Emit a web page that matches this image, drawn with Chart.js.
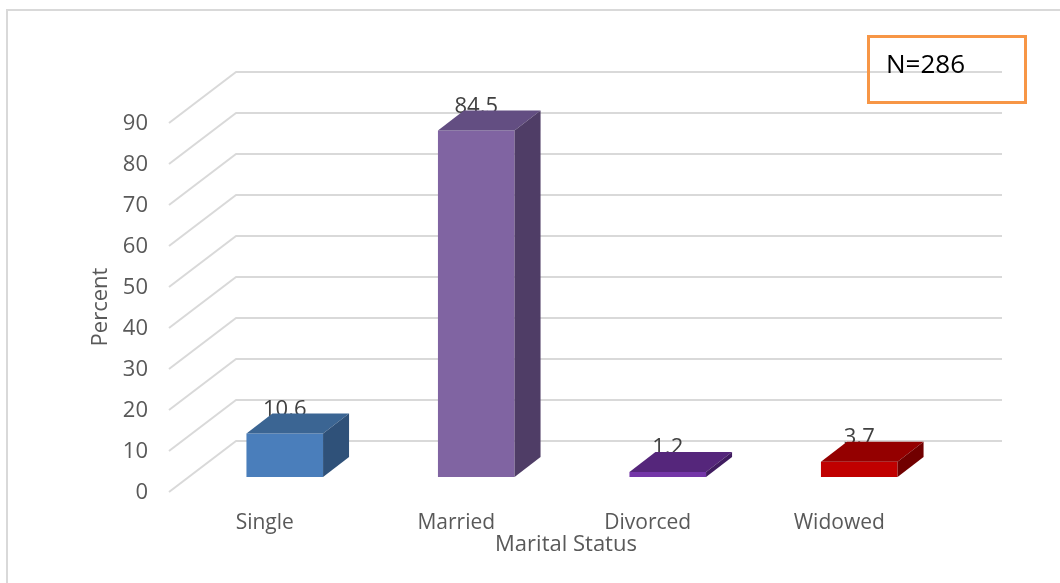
<!DOCTYPE html>
<html>
<head>
<meta charset="utf-8">
<script src="https://cdn.jsdelivr.net/npm/chart.js@4.4.1/dist/chart.umd.min.js"></script>
<style>
  html, body { margin: 0; padding: 0; background: #ffffff; }
  #wrap { width: 1060px; height: 583px; position: relative; }
</style>
</head>
<body>
<div id="wrap"><canvas id="chart" width="1060" height="583"></canvas></div>
<script>
// Marital status of respondents (percent)
const categories = ['Single', 'Married', 'Divorced', 'Widowed'];
const percentValues = [10.6, 84.5, 1.2, 3.7];
const yTicks = [0, 10, 20, 30, 40, 50, 60, 70, 80, 90];
const sampleNote = 'N=286';
const xTitle = 'Marital Status';
const yTitle = 'Percent';

// face colours per bar: front, top, right side
const frontColors = ['#4A7EBB', '#8064A2', '#7436A8', '#C00000'];
const topColors   = ['#3B6593', '#634E82', '#55267B', '#940000'];
const sideColors  = ['#2F5179', '#4F3D66', '#401C60', '#710000'];

const FONT = "'Open Sans', 'Noto Sans', sans-serif";
const TEXT = '#595959';

// 3-D geometry: bar depth, and floor/wall offsets relative to the bar plane
const BAR_DX = 26, BAR_DY = -20;
const FRONT_DX = -20, FRONT_DY = 15;
const BACK_DX = 47, BACK_DY = -36;

const threeD = {
  id: 'threeD',
  beforeDraw(chart) {
    const ctx = chart.ctx;
    ctx.save();
    ctx.fillStyle = '#ffffff';
    ctx.fillRect(0, 0, chart.width, chart.height);
    // outer chart frame
    ctx.strokeStyle = '#D9D9D9';
    ctx.lineWidth = 2;
    ctx.strokeRect(7, 10, chart.width + 20, chart.height + 20);
    ctx.restore();
  },
  beforeDatasetsDraw(chart) {
    const ctx = chart.ctx;
    const y = chart.scales.y;
    const area = chart.chartArea;
    ctx.save();
    ctx.strokeStyle = '#D9D9D9';
    ctx.lineWidth = 2;
    ctx.lineJoin = 'round';
    yTicks.forEach(v => {
      const py = y.getPixelForValue(v);
      ctx.beginPath();
      ctx.moveTo(area.left + FRONT_DX, py + FRONT_DY);
      ctx.lineTo(area.left + BACK_DX, py + BACK_DY);
      ctx.lineTo(area.right + BACK_DX, py + BACK_DY);
      ctx.stroke();
    });
    ctx.restore();
  },
  afterDatasetsDraw(chart) {
    const ctx = chart.ctx;
    const meta = chart.getDatasetMeta(0);
    ctx.save();
    // value labels sit behind the top faces
    ctx.fillStyle = '#404040';
    ctx.font = '22px ' + FONT;
    ctx.textAlign = 'center';
    ctx.textBaseline = 'middle';
    meta.data.forEach((bar, i) => {
      ctx.fillText(String(percentValues[i]), bar.x, bar.y - 24);
    });
    meta.data.forEach((bar, i) => {
      const l = bar.x - bar.width / 2, r = bar.x + bar.width / 2;
      const t = bar.y, b = bar.base;
      ctx.fillStyle = topColors[i];
      ctx.beginPath();
      ctx.moveTo(l, t);
      ctx.lineTo(r, t);
      ctx.lineTo(r + BAR_DX, t + BAR_DY);
      ctx.lineTo(l + BAR_DX, t + BAR_DY);
      ctx.closePath();
      ctx.fill();
      ctx.fillStyle = sideColors[i];
      ctx.beginPath();
      ctx.moveTo(r, t);
      ctx.lineTo(r + BAR_DX, t + BAR_DY);
      ctx.lineTo(r + BAR_DX, b + BAR_DY);
      ctx.lineTo(r, b);
      ctx.closePath();
      ctx.fill();
    });
    ctx.restore();
  },
  afterDraw(chart) {
    const ctx = chart.ctx;
    ctx.save();
    ctx.fillStyle = TEXT;
    ctx.font = '22px ' + FONT;
    ctx.textAlign = 'center';
    ctx.textBaseline = 'middle';
    ctx.fillText(xTitle, 566, 545);
    ctx.translate(101, 307);
    ctx.rotate(-Math.PI / 2);
    ctx.fillText(yTitle, 0, 0);
    ctx.restore();

    // sample size box
    ctx.save();
    ctx.strokeStyle = '#F79646';
    ctx.lineWidth = 3;
    ctx.strokeRect(868.5, 36.5, 157, 66);
    ctx.fillStyle = '#000000';
    ctx.font = '26px ' + FONT;
    ctx.textAlign = 'left';
    ctx.textBaseline = 'middle';
    ctx.fillText(sampleNote, 886, 66);
    ctx.restore();
  }
};

new Chart(document.getElementById('chart'), {
  type: 'bar',
  data: {
    labels: categories,
    datasets: [{
      data: percentValues,
      backgroundColor: frontColors,
      borderWidth: 0,
      categoryPercentage: 0.8,
      barPercentage: 0.5
    }]
  },
  options: {
    responsive: false,
    animation: false,
    layout: { padding: { top: 108, right: 105, bottom: 0, left: 0 } },
    plugins: { legend: { display: false }, tooltip: { enabled: false } },
    scales: {
      x: {
        grid: { display: false, drawTicks: false },
        border: { display: false },
        ticks: { color: TEXT, font: { family: FONT, size: 21 }, padding: 33, labelOffset: -20, maxRotation: 0 },
        afterFit(s) { s.height = 106; }
      },
      y: {
        min: 0,
        max: 90,
        grid: { display: false, drawTicks: false },
        border: { display: false },
        ticks: { stepSize: 10, color: TEXT, font: { family: FONT, size: 22 }, padding: 41, labelOffset: 16 },
        afterFit(s) { s.width = 189; }
      }
    }
  },
  plugins: [threeD]
});
</script>
</body>
</html>
